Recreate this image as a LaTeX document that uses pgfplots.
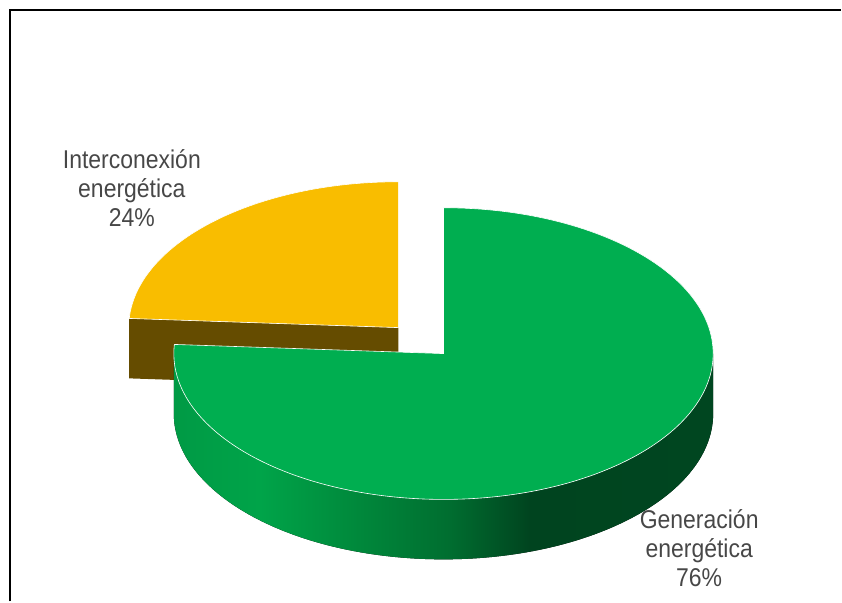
\documentclass[border=0pt]{standalone}
\usepackage{pgfplots}
\pgfplotsset{compat=1.18}
\usepackage{pgfplotstable}
\usepackage{graphicx}
\usepackage{fontspec}
\setmainfont{Liberation Sans}
\definecolor{gtop}{HTML}{00AE50}
\definecolor{ytop}{HTML}{F9BD00}
\definecolor{yside}{HTML}{654C00}
\definecolor{txt}{HTML}{474747}
\definecolor{g0}{HTML}{009A45}
\definecolor{g1}{HTML}{00A449}
\definecolor{g2}{HTML}{008A3C}
\definecolor{g3}{HTML}{006E30}
\definecolor{g4}{HTML}{00441F}
\definecolor{g5}{HTML}{004620}
\pgfdeclarehorizontalshading{sidewall}{100bp}{color(0bp)=(g0); color(25bp)=(g0); color(33bp)=(g1); color(41.5bp)=(g2); color(50.5bp)=(g3); color(58bp)=(g4); color(75bp)=(g5); color(100bp)=(g5)}

\pgfplotstableread{
name value
Interconexion 24
Generacion 76
}\piedata

\newcommand{\lbl}[1]{\scalebox{1}[1.12]{\fontsize{23}{26}\selectfont\begin{tabular}{@{}c@{}}#1\end{tabular}}}

\begin{document}
\begin{tikzpicture}
\pgfplotstablegetelem{0}{value}\of\piedata \pgfmathsetmacro{\vInter}{\pgfplotsretval}
\pgfplotstablegetelem{1}{value}\of\piedata \pgfmathsetmacro{\vGen}{\pgfplotsretval}
\pgfmathtruncatemacro{\pInter}{round(\vInter)}
\pgfmathtruncatemacro{\pGen}{round(\vGen)}
% geometry (pixel units, y upwards)
\pgfmathsetmacro{\cgx}{444}\pgfmathsetmacro{\cgy}{248}
\pgfmathsetmacro{\rx}{270}\pgfmathsetmacro{\ry}{146}\pgfmathsetmacro{\dep}{60}
\pgfmathsetmacro{\aEnd}{90-3.6*\vGen}
\pgfmathsetmacro{\aMid}{\aEnd+360}
\pgfmathsetmacro{\aBis}{(\aMid+90)/2}
\pgfmathsetmacro{\cyx}{\cgx+66*cos(\aBis)}
\pgfmathsetmacro{\cyy}{\cgy+66*\ry/\rx*sin(\aBis)}
\pgfmathsetmacro{\pxx}{\cyx+\rx*cos(\aMid)}
\pgfmathsetmacro{\pxy}{\cyy+\ry*sin(\aMid)}
\pgfmathsetmacro{\pxyb}{\pxy-\dep}
\pgfmathsetmacro{\cyyb}{\cyy-\dep}
\pgfmathsetmacro{\gtopy}{\cgy+\ry}
\pgfmathsetmacro{\gleft}{\cgx-\rx}
\pgfmathsetmacro{\gright}{\cgx+\rx}
\pgfmathsetmacro{\gyb}{\cgy-\dep}
\begin{axis}[x=1pt,y=1pt,xmin=0,xmax=842,ymin=0,ymax=602,
  scale only axis,hide axis,clip=false]
\path (axis cs:0,0) rectangle (axis cs:842,602);
% exploded slice: radial face
\fill[yside] (axis cs:\cyx,\cyy) -- (axis cs:\pxx,\pxy) -- (axis cs:\pxx,\pxyb) -- (axis cs:\cyx,\cyyb) -- cycle;
% exploded slice: top
\filldraw[fill=ytop,draw=white,line width=0.6pt] (axis cs:\cyx,\cyy) -- (axis cs:\pxx,\pxy)
  arc[start angle=\aMid,end angle=90,x radius=\rx,y radius=\ry] -- cycle;
% main slice: side wall
\fill[shading=sidewall] (axis cs:\gleft,\cgy)
  arc[start angle=180,end angle=360,x radius=\rx,y radius=\ry]
  -- (axis cs:\gright,\gyb)
  arc[start angle=360,end angle=180,x radius=\rx,y radius=\ry] -- cycle;
% main slice: top
\filldraw[fill=gtop,draw=white,line width=0.6pt] (axis cs:\cgx,\cgy) -- (axis cs:\cgx,\gtopy)
  arc[start angle=90,end angle=\aEnd,x radius=\rx,y radius=\ry] -- cycle;
% labels
\node[text=txt,inner sep=0pt] at (axis cs:132,410)
  {\lbl{Interconexión\\energética\\\pInter\%}};
\node[text=txt,inner sep=0pt] at (axis cs:700,50)
  {\lbl{Generación\\energética\\\pGen\%}};
% frame
\draw[line width=2pt,black,line join=miter] (axis cs:10,0) -- (axis cs:10,592) -- (axis cs:842,592);
\end{axis}
\end{tikzpicture}
\end{document}
